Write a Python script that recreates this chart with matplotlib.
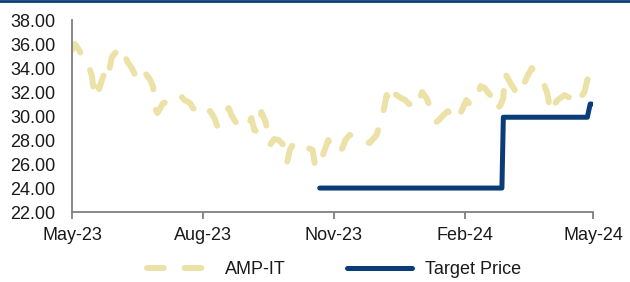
import numpy as np
import pandas as pd
import matplotlib
matplotlib.use('Agg')
import matplotlib.pyplot as plt
import matplotlib.dates as mdates
from matplotlib.lines import Line2D

start = pd.Timestamp('2023-05-01')

# AMP-IT share price (days after 1 May 2023, price)
amp_days = [0, 2, 5, 7, 9, 12, 14, 15, 17, 19, 21, 23, 25, 28, 31, 34, 37, 39, 42, 45,
            48, 50, 52, 55, 57, 58, 60, 64, 69, 73, 76, 79, 83, 85, 88, 90, 93, 97, 100, 102,
            105, 110, 112, 115, 119, 123, 126, 128, 131, 133, 136, 139, 142, 145, 148, 151, 153, 155, 159, 163,
            166, 169, 171, 174, 176, 180, 184, 187, 190, 192, 195, 201, 205, 209, 214, 216, 218, 221, 223, 224,
            226, 230, 234, 237, 240, 242, 246, 249, 251, 254, 256, 259, 261, 264, 268, 270, 274, 277, 280, 282,
            285, 287, 290, 292, 295, 298, 301, 303, 304, 306, 308, 311, 313, 318, 320, 323, 329, 332, 334, 336,
            339, 341, 346, 350, 353, 357, 360, 362, 365, 367]
amp_price = [35.50, 36.00, 35.50, 35.00, 34.33, 34.08, 33.33, 32.33, 33.17, 32.25, 33.00, 33.67, 33.17, 34.92, 35.33, 35.75, 35.08, 34.50, 34.00, 33.25,
             32.83, 33.33, 33.50, 33.00, 32.42, 30.75, 30.25, 31.08, 31.25, 31.33, 31.75, 31.33, 31.08, 30.67, 30.33, 30.00, 30.25, 30.42, 29.83, 29.17,
             29.92, 30.67, 30.08, 29.50, 29.25, 29.00, 29.83, 28.83, 28.67, 30.33, 29.50, 27.58, 28.08, 28.00, 27.67, 26.08, 27.17, 27.58, 27.33, 27.00,
             27.33, 27.17, 25.67, 26.33, 26.67, 28.00, 27.17, 26.92, 27.33, 28.00, 28.42, 28.42, 28.00, 27.75, 28.42, 29.25, 29.92, 31.75, 31.33, 31.08,
             31.92, 31.58, 31.33, 31.00, 30.67, 30.75, 32.00, 31.50, 30.92, 29.92, 29.50, 29.83, 30.08, 30.42, 29.83, 29.67, 30.50, 31.33, 30.92, 31.33,
             31.75, 32.50, 32.33, 32.00, 31.58, 30.50, 30.92, 31.50, 33.58, 33.17, 32.75, 32.17, 31.75, 32.83, 33.33, 34.00, 32.83, 32.50, 31.83, 30.33,
             31.00, 31.33, 31.75, 31.50, 31.00, 31.50, 32.00, 33.00, 34.00, 34.67]

# target price
tp_dates = ['2023-10-22', '2024-02-27', '2024-02-28', '2024-04-27', '2024-04-29', '2024-04-30']
tp_values = [24.0, 24.0, 29.9, 29.9, 31.0, 31.0]

amp_x = start + pd.to_timedelta(amp_days, unit='D')
tp_x = pd.to_datetime(tp_dates)

khaki = '#ECE1A6'
navy = '#0B3C78'

fig = plt.figure(figsize=(6.3, 2.82), dpi=100)
ax = fig.add_axes([0.1143, 0.248, 0.8270, 0.681])

ax.plot(amp_x, amp_price, color=khaki, lw=4.3, linestyle=(0, (2.8, 3.5)),
        dash_capstyle='round', solid_joinstyle='round', label='AMP-IT')
ax.plot(tp_x, tp_values, color=navy, lw=3.6, solid_capstyle='round',
        solid_joinstyle='round', label='Target Price')

ax.set_ylim(22, 38)
ax.set_yticks(np.arange(22, 38.1, 2))
ax.yaxis.set_major_formatter(matplotlib.ticker.FormatStrFormatter('%.2f'))
ax.set_xlim(pd.Timestamp('2023-05-01'), pd.Timestamp('2024-05-01'))
ax.xaxis.set_major_locator(mdates.MonthLocator(bymonth=[2, 5, 8, 11]))
ax.xaxis.set_major_formatter(mdates.DateFormatter('%b-%y'))

for s in ['top', 'right']:
    ax.spines[s].set_visible(False)
for s in ['left', 'bottom']:
    ax.spines[s].set_color('#808080')
    ax.spines[s].set_linewidth(1.3)

ax.tick_params(axis='y', length=0, pad=12, labelsize=13, labelcolor='#1a1a1a')
ax.tick_params(axis='x', length=5, width=1.3, color='#808080', pad=6,
               labelsize=13, labelcolor='#1a1a1a')
for lab in ax.get_xticklabels() + ax.get_yticklabels():
    lab.set_family('Liberation Sans')

leg = fig.legend(loc='lower center', bbox_to_anchor=(0.53, -0.045), ncol=2, frameon=False,
                 prop={'family': 'Liberation Sans', 'size': 13}, handlelength=3.6,
                 handletextpad=0.7, columnspacing=3.4)
for t in leg.get_texts():
    t.set_color('#1a1a1a')

# dark band along the top edge
fig.add_artist(Line2D([0, 1], [0.997, 0.997], transform=fig.transFigure, color=navy, lw=2))

fig.savefig('out.png', dpi=100)
